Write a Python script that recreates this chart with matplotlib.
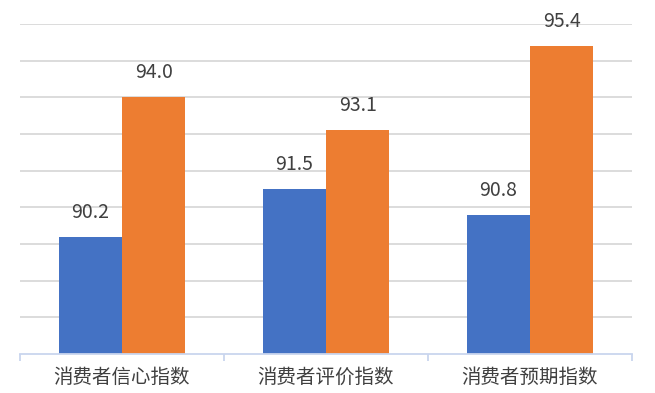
import matplotlib.pyplot as plt
import numpy as np

plt.rcParams['font.family'] = ['Noto Sans CJK SC', 'DejaVu Sans']

categories = ['消费者信心指数', '消费者评价指数', '消费者预期指数']
series_a = [90.2, 91.5, 90.8]
series_b = [94.0, 93.1, 95.4]
colors = ['#4472C4', '#ED7D31']

if __name__ == '__main__':
    fig = plt.figure(figsize=(6.55, 3.93), dpi=100)
    ax = fig.add_axes([20 / 655, 39 / 393, 612 / 655, 330 / 393])

    x = np.arange(len(categories))
    w = 0.31
    ax.bar(x - w / 2, [v - 87 for v in series_a], w, bottom=87, color=colors[0], zorder=3)
    ax.bar(x + w / 2, [v - 87 for v in series_b], w, bottom=87, color=colors[1], zorder=3)

    # value labels above each bar
    for xs, vals in ((x - w / 2, series_a), (x + w / 2, series_b)):
        for xi, v in zip(xs, vals):
            ax.annotate('{:.1f}'.format(v), (xi, v), xytext=(0, 10), textcoords='offset points',
                        ha='center', va='bottom', fontsize=14, color='#404040',
                        annotation_clip=False)

    ax.set_xlim(-0.5, 2.5)
    ax.set_ylim(87, 96)
    ax.set_yticks(np.arange(88, 97, 1))
    ax.yaxis.grid(True, color='#d9d9d9', linewidth=1.3, zorder=0)
    ax.tick_params(axis='y', left=False, labelleft=False)

    for s in ['top', 'right', 'left']:
        ax.spines[s].set_visible(False)
    ax.spines['bottom'].set_color('#c9d5ee')
    ax.spines['bottom'].set_linewidth(1.3)
    ax.spines['bottom'].set_zorder(4)

    # category boundary ticks
    ax.set_xticks([-0.5, 0.5, 1.5, 2.5])
    ax.set_xticklabels([])
    ax.tick_params(axis='x', direction='out', length=5, width=1.3, color='#c9d5ee')
    ax.set_xticks(x, minor=True)
    ax.set_xticklabels(categories, minor=True, fontsize=14, color='#404040')
    ax.tick_params(axis='x', which='minor', length=0, pad=9)

    plt.savefig('out.png')
